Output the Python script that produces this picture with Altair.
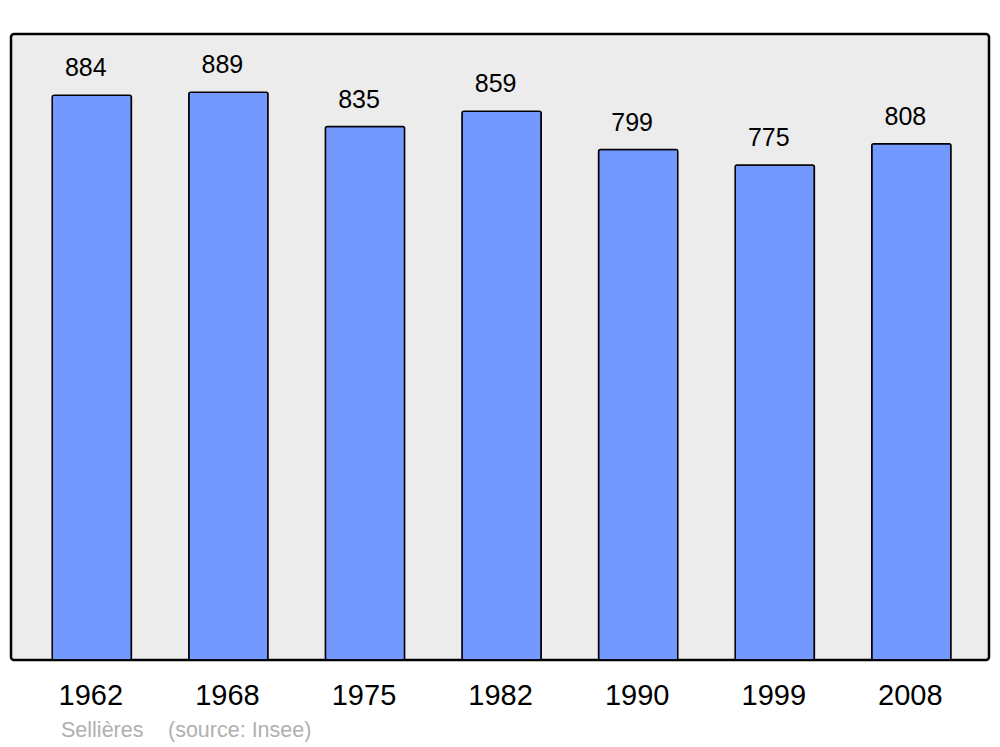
import altair as alt
import pandas as pd

years = ["1962", "1968", "1975", "1982", "1990", "1999", "2008"]
population = [884, 889, 835, 859, 799, 775, 808]
source_parts = ["Sellières", "(source: Insee)"]
source_x = [61, 168]

df = pd.DataFrame({"year": years, "pop": population})

x = alt.X("year:N", sort=years, title=None,
          scale=alt.Scale(paddingInner=0.42, paddingOuter=0.29, align=0.52),
          axis=alt.Axis(domain=False, ticks=False, tickSize=0, labelAngle=0,
                        labelFontSize=29, labelFont="Liberation Sans", labelColor="black",
                        labelBaseline="alphabetic", labelPadding=44, labelOffset=-1, grid=False))
y = alt.Y("pop:Q", title=None, scale=alt.Scale(domain=[0, 980], nice=False, zero=True),
          axis=None)

bars = alt.Chart(df).mark_bar(
    color="#7399ff", stroke="black", strokeWidth=1.5, cornerRadius=2
).encode(x=x, y=y)

labels = alt.Chart(df).mark_text(
    baseline="alphabetic", dy=-19, dx=-6, fontSize=25, font="Liberation Sans", color="black"
).encode(x=x, y=y, text="pop:Q")

src_df = pd.DataFrame({"t": source_parts, "px": [v - 11 for v in source_x]})
src = alt.Chart(src_df).mark_text(
    align="left", baseline="alphabetic", fontSize=21.5, font="Liberation Sans", color="#b0b0b0"
).encode(x=alt.X("px:Q", scale=None), y=alt.value(703), text="t:N")

chart = alt.layer(bars, labels, src).properties(
    width=978, height=626,
    autosize=alt.AutoSizeParams(type="none"),
    padding={"left": 3, "top": 26, "right": 3, "bottom": 84},
    background="white",
).configure_view(
    fill="#ececec", stroke="black", strokeWidth=2.5, cornerRadius=3
)

chart.save("out.html", embed_options={"renderer": "svg", "actions": False})
